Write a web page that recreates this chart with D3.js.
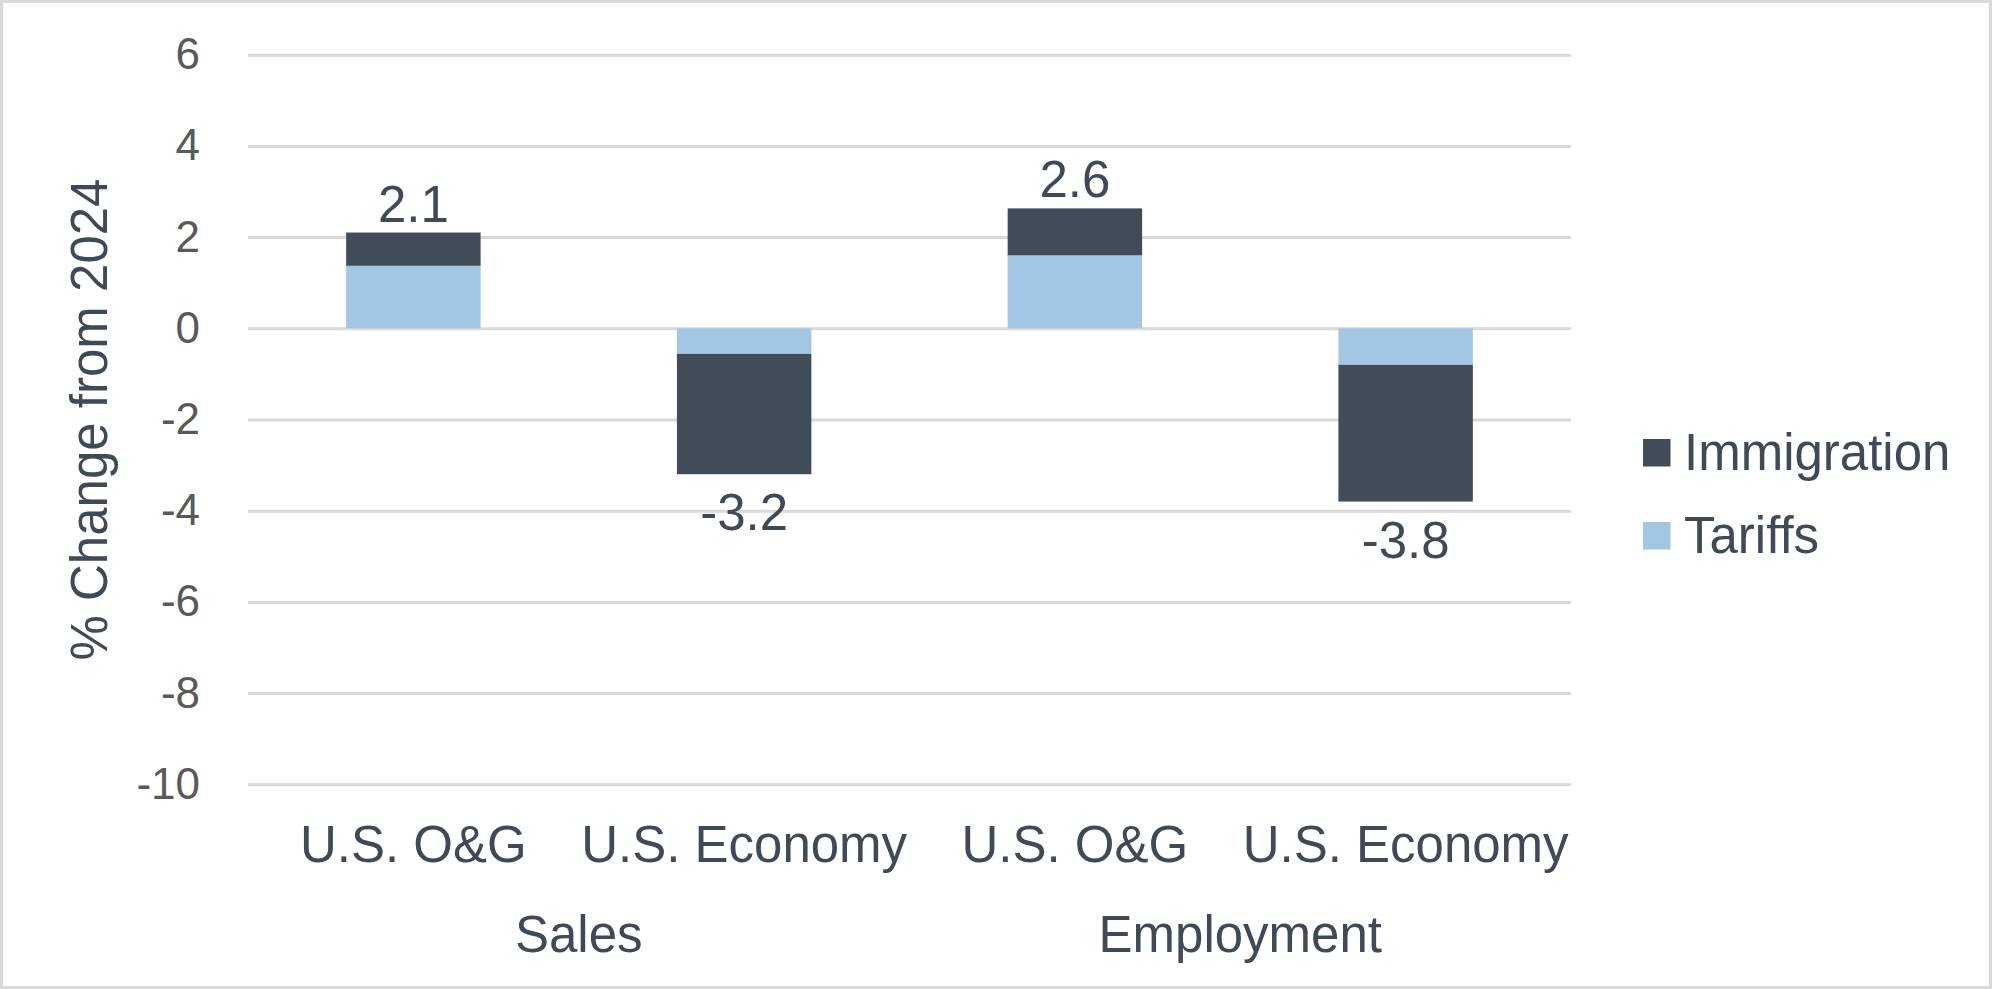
<!DOCTYPE html>
<html>
<head>
<meta charset="utf-8">
<script src="https://cdn.jsdelivr.net/npm/d3@7"></script>
<style>
  body { margin: 0; background: #fff; }
  text { font-family: "Liberation Sans", Arial, sans-serif; }
</style>
</head>
<body>
<svg width="1992" height="989"></svg>
<script>
// data
var groups = ["Sales", "Sales", "Employment", "Employment"];
var categories = ["U.S. O&G", "U.S. Economy", "U.S. O&G", "U.S. Economy"];
var tariffs = [1.37, -0.56, 1.6, -0.8];
var immigration = [0.73, -2.64, 1.03, -3.0];
var seriesNames = ["Tariffs", "Immigration"];
var yTicks = [-10, -8, -6, -4, -2, 0, 2, 4, 6];

var colors = { "Tariffs": "#a3c6e2", "Immigration": "#404c58" };

// plain hyphen for negatives, like the original
var locale = d3.formatLocale({ decimal: ".", thousands: ",", grouping: [3], currency: ["$", ""], minus: "-" });
var fmt = locale.format(".1f");
var tickFmt = locale.format("d");

var svg = d3.select("svg"),
    W = +svg.attr("width"),
    H = +svg.attr("height");

// plot area (window.top is reserved, so use other names)
var plotLeft = 248, plotRight = 1571, plotTop = 54.7, plotBottom = 784.3;
var width = plotRight - plotLeft, height = plotBottom - plotTop;

// chart border
svg.append("rect")
  .attr("x", 1.5).attr("y", 1.5)
  .attr("width", W - 3).attr("height", H - 3)
  .attr("fill", "#fff")
  .attr("stroke", "#d9d9d9")
  .attr("stroke-width", 3);

var rows = categories.map(function(c, i) {
  return { key: i, group: groups[i], cat: c, Tariffs: tariffs[i], Immigration: immigration[i] };
});

var x = d3.scaleBand()
  .domain(rows.map(function(d) { return d.key; }))
  .range([0, width])
  .paddingInner(1.46 / 2.46)
  .paddingOuter(1.46 / 2.46 / 2);

var y = d3.scaleLinear().domain([-10, 6]).range([height, 0]);

var g = svg.append("g").attr("transform", "translate(" + plotLeft + "," + plotTop + ")");

// y axis with gridlines
var yAxis = g.append("g")
  .call(d3.axisLeft(y).tickValues(yTicks).tickFormat(tickFmt).tickSize(-width).tickPadding(48));
yAxis.select(".domain").remove();
yAxis.selectAll(".tick line").attr("stroke", "#d9d9d9").attr("stroke-width", 3);
yAxis.selectAll(".tick text")
  .attr("fill", "#595959")
  .style("font-size", "44px")
  .style("font-family", "'Liberation Sans', Arial, sans-serif");

// stacked bars
var stack = d3.stack().keys(seriesNames).offset(d3.stackOffsetDiverging);
var layers = stack(rows);

g.selectAll(".layer")
  .data(layers)
  .enter().append("g")
  .attr("fill", function(d) { return colors[d.key]; })
  .selectAll("rect")
  .data(function(d) { return d; })
  .enter().append("rect")
  .attr("x", function(d) { return x(d.data.key); })
  .attr("y", function(d) { return y(Math.max(d[0], d[1])); })
  .attr("width", x.bandwidth())
  .attr("height", function(d) { return Math.abs(y(d[0]) - y(d[1])); });

// total labels
g.selectAll(".total")
  .data(rows)
  .enter().append("text")
  .attr("x", function(d) { return x(d.key) + x.bandwidth() / 2; })
  .attr("y", function(d) {
    var t = d.Tariffs + d.Immigration;
    return t >= 0 ? y(t) - 11 : y(t) + 56;
  })
  .attr("text-anchor", "middle")
  .attr("fill", "#3e4a57")
  .style("font-size", "51px")
  .text(function(d) { return fmt(d.Tariffs + d.Immigration); });

// category axis
var xAxis = g.append("g")
  .attr("transform", "translate(0," + height + ")")
  .call(d3.axisBottom(x).tickSize(0).tickPadding(41)
    .tickFormat(function(k) { return categories[k]; }));
xAxis.select(".domain").remove();
xAxis.selectAll(".tick text")
  .attr("fill", "#3e4a57")
  .style("font-size", "51px")
  .style("font-family", "'Liberation Sans', Arial, sans-serif");

// group labels
var groupNames = ["Sales", "Employment"];
g.selectAll(".grp")
  .data(groupNames)
  .enter().append("text")
  .attr("x", function(name) {
    var ks = rows.filter(function(d) { return d.group === name; }).map(function(d) { return d.key; });
    return (x(ks[0]) + x(ks[ks.length - 1]) + x.bandwidth()) / 2;
  })
  .attr("y", 952 - plotTop)
  .attr("text-anchor", "middle")
  .attr("fill", "#3e4a57")
  .style("font-size", "51px")
  .text(function(d) { return d; });

// y axis title
svg.append("text")
  .attr("transform", "translate(107," + (plotTop + height / 2) + ") rotate(-90)")
  .attr("text-anchor", "middle")
  .attr("fill", "#3e4a57")
  .style("font-size", "51px")
  .text("% Change from 2024");

// legend
var legendItems = ["Immigration", "Tariffs"];
var lg = svg.append("g").attr("transform", "translate(1643,439)");
var li = lg.selectAll("g")
  .data(legendItems)
  .enter().append("g")
  .attr("transform", function(d, i) { return "translate(0," + (i * 83) + ")"; });
li.append("rect")
  .attr("width", 27.5).attr("height", 27.5)
  .attr("fill", function(d) { return colors[d]; });
li.append("text")
  .attr("x", 41)
  .attr("y", 30.5)
  .attr("fill", "#3e4a57")
  .style("font-size", "51px")
  .text(function(d) { return d; });
</script>
</body>
</html>
